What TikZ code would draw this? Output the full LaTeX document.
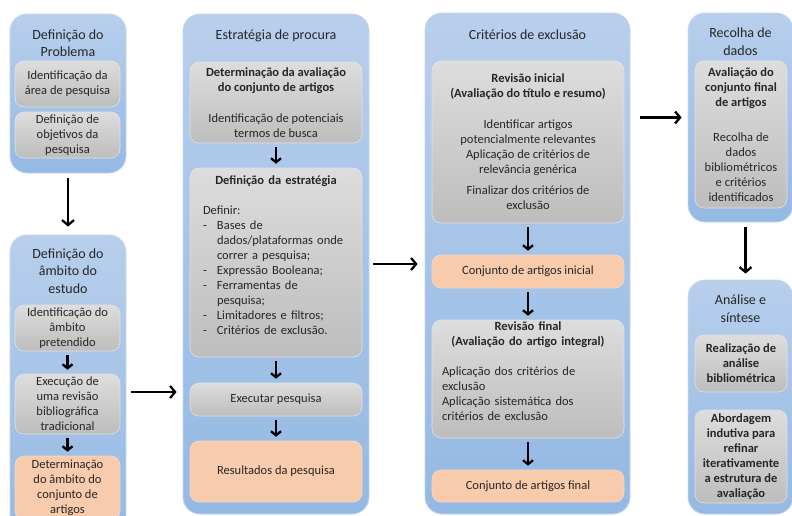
\documentclass[tikz,border=0pt]{standalone}
\usepackage{fontspec}
\setmainfont{Carlito}
\definecolor{stagetop}{RGB}{184,207,236}
\definecolor{stagebottom}{RGB}{148,185,228}
\definecolor{stageedge}{RGB}{196,214,238}
\definecolor{tasktop}{RGB}{221,221,221}
\definecolor{taskbottom}{RGB}{189,189,189}
\definecolor{taskedge}{RGB}{226,226,226}
\definecolor{resultfill}{RGB}{248,203,173}
\definecolor{resultedge}{RGB}{242,218,200}
\definecolor{inkcolor}{RGB}{38,38,38}
\usetikzlibrary{arrows.meta,shapes,positioning}
\newcommand{\bodyfont}{\fontsize{12.5}{15}\selectfont}
\newcommand{\headfont}{\fontsize{14}{17.5}\selectfont}
\newcommand{\dashitem}{\makebox[14pt][l]{-}}
\newcommand{\dashcont}{\hspace*{14pt}}
\tikzset{
	stage/.style={
		rectangle,
		rounded corners=17pt,
		top color=stagetop,
		bottom color=stagebottom,
		draw=stageedge,
		line width=0.8pt,
		inner sep=0pt
	},
	stagetitle/.style={
		align=center,
		font=\headfont,
		text=inkcolor,
		inner sep=0pt
	},
	task/.style={
		rectangle,
		rounded corners=9pt,
		top color=tasktop,
		bottom color=taskbottom,
		draw=taskedge,
		line width=0.6pt,
		align=center,
		font=\bodyfont,
		text=inkcolor,
		inner sep=2pt
	},
	result/.style={
		task,
		top color=resultfill,
		bottom color=resultfill,
		draw=resultedge
	},
	arrow/.style={
		draw=black,
		line width=2.3pt,
		-{Straight Barb[length=5pt,width=12pt]},
		shorten <=5pt,
		shorten >=6pt
	},
	smallarrow/.style={
		arrow,
		-{Straight Barb[length=4pt,width=10pt]},
		shorten <=4pt,
		shorten >=4pt
	},
}
\begin{document}
\begin{tikzpicture}[x=1pt,y=-1pt]
	\useasboundingbox (0,0) rectangle (792,515);
	\fill[white] (0,0) rectangle (792,515);
	% Definicao do problema
	\node[stage,minimum width=116pt,minimum height=159pt] (cP) at (68,93.5) {};
	\node[stagetitle] (tP) at (68,43) {Definição do\\Problema};
	\node[task,minimum width=105pt,minimum height=46pt] (pArea) at (67.5,84) {Identificação da\\área de pesquisa};
	\node[task,minimum width=105pt,minimum height=46pt] (pObj) at (67.5,135) {Definição de\\objetivos da\\pesquisa};
	% Definicao do ambito
	\node[stage,minimum width=116pt,minimum height=300pt] (cA) at (68,385) {};
	\node[stagetitle] (tA) at (68,271) {Definição do\\âmbito do\\estudo};
	\node[task,minimum width=105pt,minimum height=46pt] (aId) at (67.5,328) {Identificação do\\âmbito\\pretendido};
	\node[task,minimum width=105pt,minimum height=60pt] (aExec) at (67.5,404) {Execução de\\uma revisão\\bibliográfica\\tradicional};
	\node[result,minimum width=105pt,minimum height=64pt] (aDet) at (67.5,488) {Determinação\\do âmbito do\\conjunto de\\artigos};
	% Estrategia de procura
	\node[stage,minimum width=186pt,minimum height=500pt] (cS) at (276,264) {};
	\node[stagetitle] (tS) at (276,36) {Estratégia de procura};
	\node[task,minimum width=172pt,minimum height=81pt] (sDet) at (276,102.5) {\textbf{Determinação da avaliação}\\\textbf{do conjunto de artigos}\\[16pt]Identificação de potenciais\\termos de busca};
	\node[task,minimum width=172pt,minimum height=189pt,text width=146pt,align=left] (sDef) at (276,262.5) {%
		{\centering\bfseries Definição da estratégia\par}\vspace{15pt}
		Definir:\\
		\dashitem Bases de\\
		\dashcont dados/plataformas onde\\
		\dashcont correr a pesquisa;\\
		\dashitem Expressão Booleana;\\
		\dashitem Ferramentas de\\
		\dashcont pesquisa;\\
		\dashitem Limitadores e filtros;\\
		\dashitem Critérios de exclusão.\\\mbox{}};
	\node[task,minimum width=172pt,minimum height=33pt] (sExe) at (276,399.5) {Executar pesquisa};
	\node[result,minimum width=172pt,minimum height=61pt] (sRes) at (276,471.5) {Resultados da pesquisa};
	% Criterios de exclusao
	\node[stage,minimum width=205pt,minimum height=501pt] (cE) at (527.5,263.5) {};
	\node[stagetitle] (tE) at (527.5,35) {Critérios de exclusão};
	\node[task,minimum width=192pt,minimum height=162pt] (eIni) at (528,142) {\textbf{Revisão inicial}\\\textbf{(Avaliação do título e resumo)}\\[16pt]Identificar artigos\\potencialmente relevantes\\Aplicação de critérios de\\relevância genérica\\[6pt]Finalizar dos critérios de\\exclusão};
	\node[result,minimum width=192pt,minimum height=33pt] (eSet1) at (528,271.5) {Conjunto de artigos inicial};
	\node[task,minimum width=192pt,minimum height=118pt,text width=172pt,align=left] (eFin) at (528,379) {%
		{\centering\bfseries Revisão final\\(Avaliação do artigo integral)\par}\vspace{15pt}
		Aplicação dos critérios de\\
		exclusão\\
		Aplicação sistemática dos\\
		critérios de exclusão\\\mbox{}};
	\node[result,minimum width=192pt,minimum height=32pt] (eSet2) at (528,486) {Conjunto de artigos final};
	% Recolha de dados
	\node[stage,minimum width=105pt,minimum height=209pt] (cR) at (740.5,117.5) {};
	\node[stagetitle] (tR) at (740.5,41.5) {Recolha de\\dados};
	\node[task,minimum width=92pt,minimum height=147pt] (rAval) at (741,134.5) {\textbf{Avaliação do}\\\textbf{conjunto final}\\\textbf{de artigos}\\[20pt]Recolha de\\dados\\bibliométricos\\e critérios\\identificados};
	% Analise e sintese
	\node[stage,minimum width=105pt,minimum height=234pt] (cN) at (740.5,397) {};
	\node[stagetitle] (tN) at (740.5,308.5) {Análise e\\síntese};
	\node[task,minimum width=92pt,minimum height=57pt,font=\bodyfont\bfseries] (nReal) at (741,363.5) {Realização de\\análise\\bibliométrica};
	\node[task,minimum width=92pt,minimum height=93pt,font=\bodyfont\bfseries] (nAbor) at (741,456.5) {Abordagem\\indutiva para\\refinar\\iterativamente\\a estrutura de\\avaliação};

	\draw[arrow,shorten >=8pt] (cP) -- (cA);
	\draw[arrow] ([yshift=-7pt]cA.east) -- ([yshift=-7pt]cA.east -| cS.west);
	\draw[arrow,shorten <=4pt,shorten >=7pt] (cS.east) -- (cS.east -| cE.west);
	\draw[arrow,shorten <=10pt] (cE.east |- cR.west) -- (cR.west);
	\draw[arrow] ([xshift=5pt]cR.south) -- ([xshift=5pt]cN.north);
	\foreach \from/\to in {aId/aExec,aExec/aDet,sDet/sDef,sDef/sExe,sExe/sRes,eIni/eSet1,eSet1/eFin,eFin/eSet2}
		\draw[smallarrow] (\from) -- (\to);
\end{tikzpicture}
\end{document}
